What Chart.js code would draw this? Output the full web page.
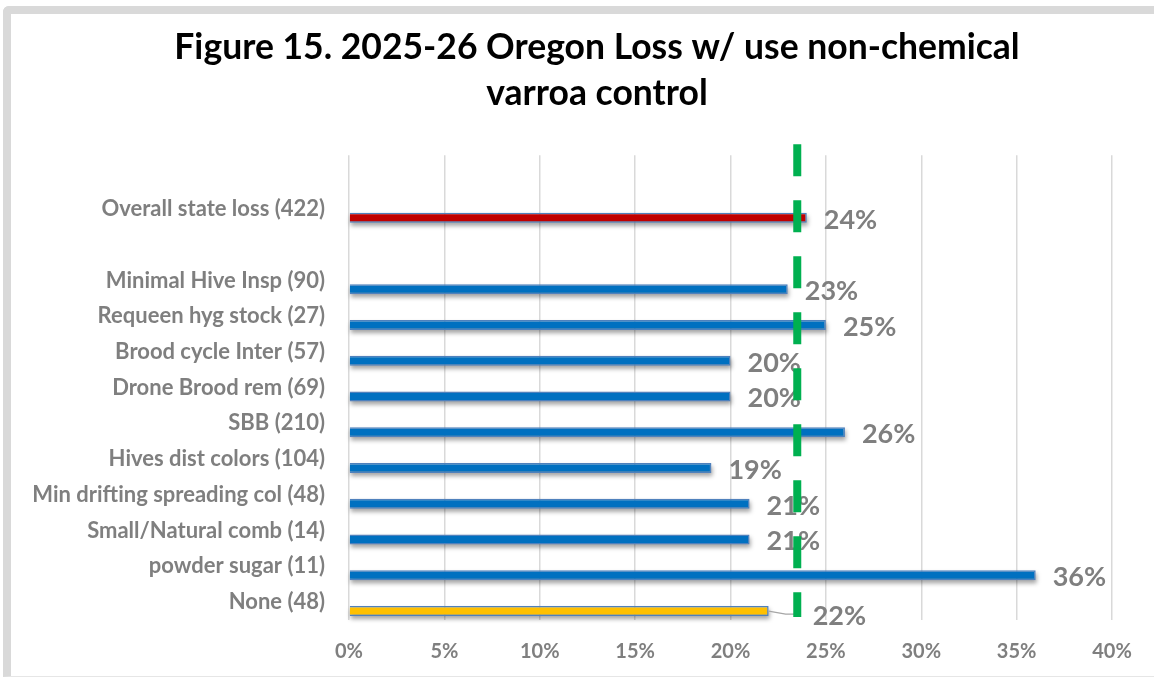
<!DOCTYPE html>
<html>
<head>
<meta charset="utf-8">
<script src="https://cdn.jsdelivr.net/npm/chart.js@4"></script>
<style>
  html, body { margin: 0; padding: 0; background: #fff; }
  #wrap { position: relative; width: 1154px; height: 679px; overflow: hidden; }
  #frame {
    position: absolute; left: 3px; top: 6px; width: 1200px; height: 671px;
    border-left: 8px solid #d9d9d9; border-top: 8px solid #d9d9d9;
    border-bottom: 1px solid #e6e6e6;
    border-top-left-radius: 6px; box-sizing: border-box;
  }
  canvas { position: absolute; left: 0; top: 0; }
</style>
</head>
<body>
<div id="wrap">
  <div id="frame"></div>
  <canvas id="chart" width="1154" height="679"></canvas>
</div>
<script>
// categories top to bottom; empty strings are blank rows in the original
const categories = [
  "",
  "Overall state loss (422)",
  "",
  "Minimal Hive Insp (90)",
  "Requeen hyg stock (27)",
  "Brood cycle Inter (57)",
  "Drone Brood rem (69)",
  "SBB (210)",
  "Hives dist colors (104)",
  "Min drifting spreading col (48)",
  "Small/Natural comb (14)",
  "powder sugar (11)",
  "None (48)"
];
// % loss per category
const lossValues = [null, 24, null, 23, 25, 20, 20, 26, 19, 21, 21, 36, 22];
// empty second series (Excel leaves its slot, so the bars sit low in each row)
const emptySeries = categories.map(() => null);
// overall loss reference (green dashed line)
const overallLine = 23.5;
const xTicks = [0, 5, 10, 15, 20, 25, 30, 35, 40];

const GREY = "#7f7f7f";
const FONT = "Lato, 'Open Sans', sans-serif";

function barColor(i) {
  if (i === 1) return "#c00000";
  if (i === categories.length - 1) return "#ffc000";
  return "#0070c0";
}

// soft drop shadow under the bars, like the Excel default
const barShadow = {
  id: "barShadow",
  afterLayout(chart) {
    // let the long category labels run left of the padding (no clipping)
    chart.scales.y.left = 0;
  },
  beforeDatasetDraw(chart, args) {
    if (args.index !== 1) return;
    const { ctx } = chart;
    ctx.save();
    ctx.filter = "blur(2px)";
    ctx.fillStyle = "rgba(0,0,0,0.35)";
    args.meta.data.forEach((bar, i) => {
      if (lossValues[i] == null) return;
      const { x, y, base, height } = bar.getProps(["x", "y", "base", "height"], true);
      ctx.fillRect(base + 1, y - height / 2 + 3, x - base, height);
    });
    ctx.restore();
  }
};

// value labels + the dashed reference line drawn on top
const overlay = {
  id: "overlay",
  afterDatasetsDraw(chart) {
    const { ctx, chartArea, scales } = chart;
    const meta = chart.getDatasetMeta(1);
    ctx.save();
    ctx.font = "bold 27px " + FONT;
    ctx.fillStyle = GREY;
    ctx.textAlign = "left";
    ctx.textBaseline = "middle";
    meta.data.forEach((bar, i) => {
      const v = lossValues[i];
      if (v == null) return;
      let x = bar.x + 17;
      let y = bar.y + 2;
      if (i === categories.length - 1) {
        // label dragged right in the original, with a leader line
        ctx.strokeStyle = "#a6a6a6";
        ctx.lineWidth = 1.2;
        ctx.beginPath();
        ctx.moveTo(bar.x, bar.y);
        ctx.lineTo(bar.x + 17, bar.y + 3);
        ctx.lineTo(bar.x + 27, bar.y + 3);
        ctx.stroke();
        x = bar.x + 44;
        y = bar.y + 5;
      }
      ctx.fillText(v + "%", x, y);
    });

    const lx = scales.x.getPixelForValue(overallLine);
    ctx.strokeStyle = "#00b050";
    ctx.lineWidth = 8;
    ctx.setLineDash([32, 24]);
    ctx.beginPath();
    ctx.moveTo(lx, chartArea.top - 11);
    ctx.lineTo(lx, chartArea.bottom - 3);
    ctx.stroke();
    ctx.restore();
  }
};

new Chart(document.getElementById("chart"), {
  type: "bar",
  data: {
    labels: categories,
    datasets: [
      { label: "", data: emptySeries },
      {
        label: "Loss",
        data: lossValues,
        backgroundColor: categories.map((_, i) => barColor(i)),
        borderColor: "#4f81bd",
        borderWidth: 1.5
      }
    ]
  },
  options: {
    indexAxis: "y",
    responsive: false,
    animation: false,
    categoryPercentage: 1.0,
    barPercentage: 0.56,
    layout: { padding: { left: 82, right: 42, top: 14, bottom: 0 } },
    plugins: {
      legend: { display: false },
      tooltip: { enabled: false },
      title: {
        display: true,
        text: ["Figure 15. 2025-26 Oregon Loss w/ use non-chemical", "varroa control"],
        color: "#000",
        font: { family: FONT, size: 35.5, weight: "bold", lineHeight: 1.3 },
        padding: { top: 10, bottom: 39 }
      }
    },
    scales: {
      x: {
        min: 0,
        max: 40,
        afterBuildTicks: s => { s.ticks = xTicks.map(v => ({ value: v })); },
        ticks: {
          callback: v => v + "%",
          color: GREY,
          padding: 20,
          font: { family: FONT, size: 20, weight: "bold" }
        },
        grid: { color: "#d9d9d9", lineWidth: 1.5, drawTicks: false },
        border: { display: false },
        afterFit: s => { s.height = 59; }
      },
      y: {
        grid: { display: false, drawTicks: false },
        border: { display: false },
        ticks: {
          autoSkip: false,
          color: GREY,
          padding: 24,
          font: { family: FONT, size: 22, weight: "bold" }
        },
        afterFit: s => { s.width = 267; }
      }
    }
  },
  plugins: [barShadow, overlay]
});
</script>
</body>
</html>
